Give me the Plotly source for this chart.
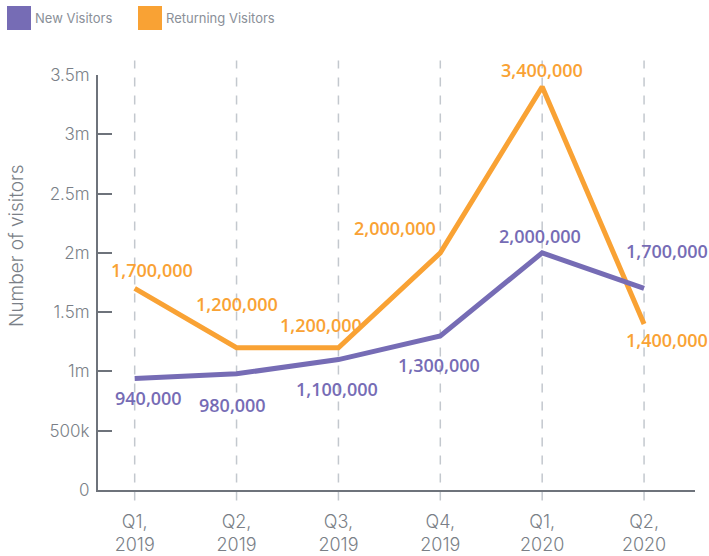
import plotly.graph_objects as go

# quarters on the x axis
quarters = ["Q1,<br>2019", "Q2,<br>2019", "Q3,<br>2019", "Q4,<br>2019", "Q1,<br>2020", "Q2,<br>2020"]

# series values
new_visitors = [940000, 980000, 1100000, 1300000, 2000000, 1700000]
returning_visitors = [1700000, 1200000, 1200000, 2000000, 3400000, 1400000]

# y axis ticks
y_ticks = [0, 500000, 1000000, 1500000, 2000000, 2500000, 3000000, 3500000]
y_tick_text = ["0", "500k", "1m", "1.5m", "2m", "2.5m", "3m", "3.5m"]

series_names = ["New Visitors", "Returning Visitors"]

# label offsets in px (x, y)
new_shift = [(14, -19), (-4, -31), (-1, -29), (-1, -29), (-2, 17), (23, 37)]
ret_shift = [(17, 18), (0, 44), (-17, 23), (-45, 25), (0, 17), (23, -16)]

PURPLE = "#766cb5"
ORANGE = "#f9a234"
GREY = "#7a7f87"
AXIS = "#6e737b"
FONT = "Inter, Lato, sans-serif"
LABEL_FONT = "Open Sans, Lato, sans-serif"

# plot area in px, used to place the hand-made legend and axis title
L, R, T, B = 98, 695, 75, 490


def px_x(p):
    return (p - L) / (R - L)


def px_y(p):
    return (B - p) / (B - T)


fig = go.Figure()

# dashed vertical guides per quarter
for q in quarters:
    fig.add_shape(type="line", xref="x", yref="paper", x0=q, x1=q, y0=-0.025, y1=1.035,
                  line=dict(color="#c3c8ce", width=1.5, dash="dash"), layer="below")

fig.add_trace(go.Scatter(x=quarters, y=returning_visitors, mode="lines", showlegend=False,
                         line=dict(color=ORANGE, width=5)))
fig.add_trace(go.Scatter(x=quarters, y=new_visitors, mode="lines", showlegend=False,
                         line=dict(color=PURPLE, width=5)))

for vals, shifts, col in [(returning_visitors, ret_shift, ORANGE), (new_visitors, new_shift, PURPLE)]:
    for q, v, (dx, dy) in zip(quarters, vals, shifts):
        fig.add_annotation(x=q, y=v, text=f"{v:,}", showarrow=False, xshift=dx, yshift=dy,
                           font=dict(family=LABEL_FONT, size=18, color=col, weight=600))

# legend: coloured squares with grey names
for (x0, name, col) in [(7, series_names[0], PURPLE), (138, series_names[1], ORANGE)]:
    fig.add_shape(type="rect", xref="paper", yref="paper", x0=px_x(x0), x1=px_x(x0 + 24),
                  y0=px_y(30), y1=px_y(6), fillcolor=col, line=dict(width=0))
    fig.add_annotation(xref="paper", yref="paper", x=px_x(x0 + 26), y=px_y(18), text=name,
                       showarrow=False, xanchor="left", yanchor="middle",
                       font=dict(family=FONT, size=13, color="#8a8f98"))

# y axis title
fig.add_annotation(xref="paper", yref="paper", x=px_x(17), y=px_y(246), text="Number of visitors",
                   textangle=-90, showarrow=False, xanchor="center", yanchor="middle",
                   font=dict(family=FONT, size=19, color=GREY, weight=300))

fig.update_layout(
    width=709, height=556,
    margin=dict(l=L, r=709 - R, t=T, b=556 - B),
    plot_bgcolor="white", paper_bgcolor="white",
    font=dict(family=FONT, color=GREY),
    showlegend=False,
    xaxis=dict(type="category", range=[-0.36, 5.5], showgrid=False, showline=True,
               linecolor=AXIS, linewidth=2, ticks="", automargin=False, ticklabelstandoff=14,
               tickfont=dict(size=18, color=GREY, weight=300), zeroline=False),
    yaxis=dict(range=[0, 3500000], tickvals=y_ticks, ticktext=y_tick_text, showgrid=False,
               showline=True, linecolor=AXIS, linewidth=2, ticks="inside", ticklen=14,
               tickwidth=2, tickcolor=AXIS, zeroline=False, ticklabelstandoff=3,
               automargin=False, tickfont=dict(size=17, color=GREY, weight=300)),
)

# drop the default body margin so the figure fills the window
fig.write_html("out.html", config={"displayModeBar": False},
               post_script="document.body.style.margin='0';")
